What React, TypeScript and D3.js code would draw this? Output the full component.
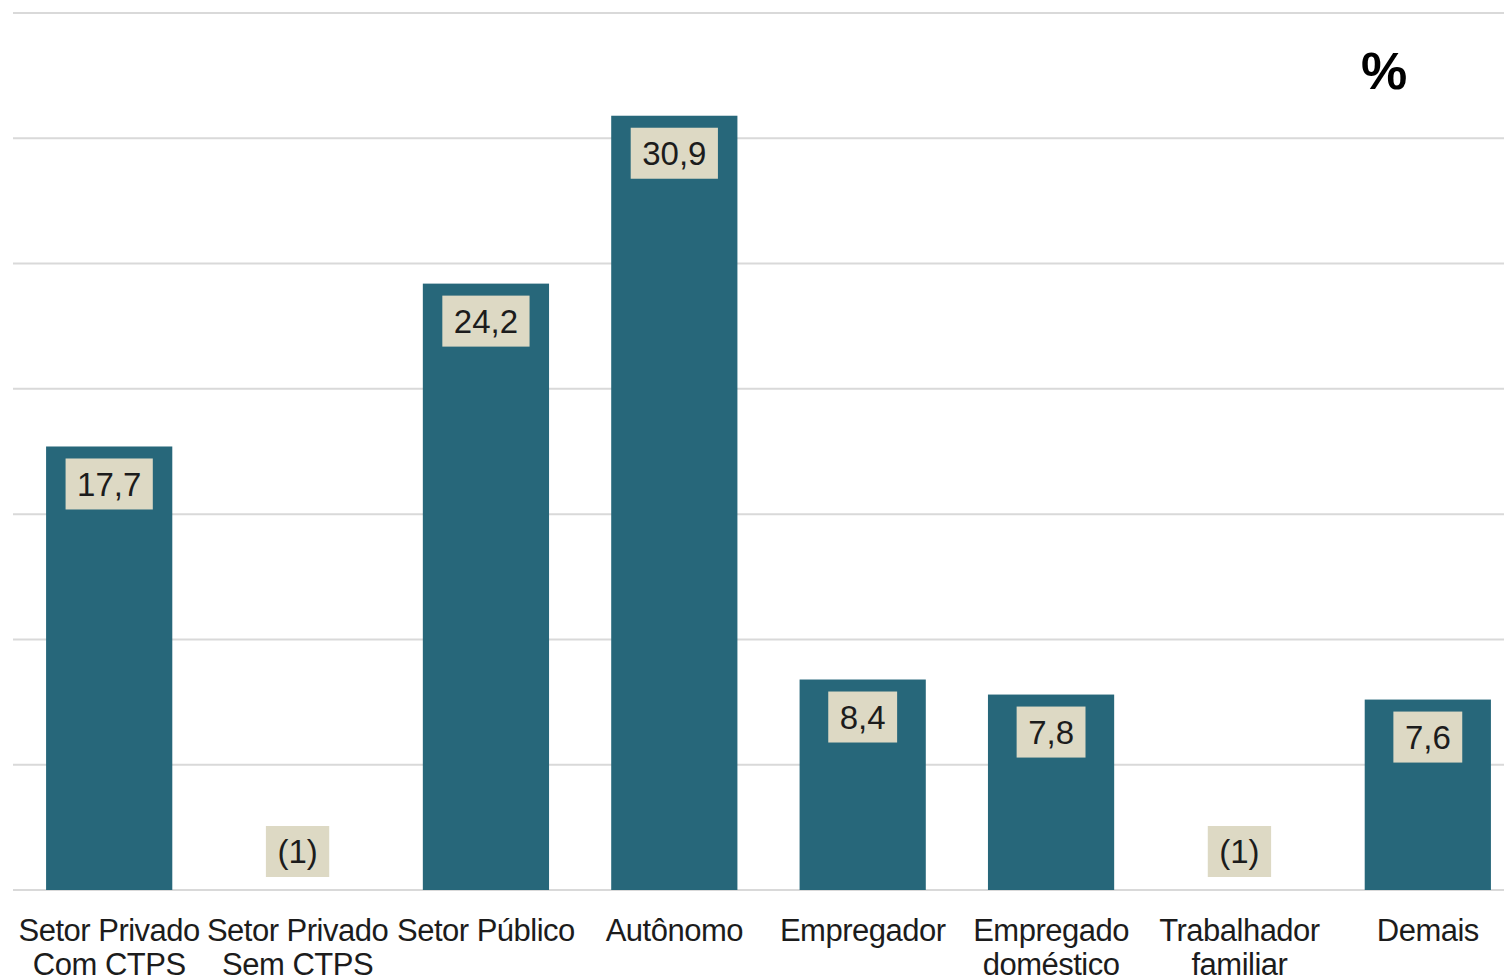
import * as d3 from "d3";

// categories (two lines each), values in %; null = "(1)" (amostra insuficiente)
const categories: string[][] = [
    ["Setor Privado", "Com CTPS"],
    ["Setor Privado", "Sem CTPS"],
    ["Setor Público"],
    ["Autônomo"],
    ["Empregador"],
    ["Empregado", "doméstico"],
    ["Trabalhador", "familiar"],
    ["Demais"],
];
const values: (number | null)[] = [17.7, null, 24.2, 30.9, 8.4, 7.8, null, 7.6];
const yTicks = [0, 5, 10, 15, 20, 25, 30, 35];
const unitLabel = "%";
const missingLabel = "(1)";

const width = 1504;
const height = 977;
const marginTop = 13;
const baseline = 890;
const plotLeft = 13;

const barColor = "#27677a";
const boxColor = "#ddd9c4";
const textColor = "#1c1c1c";
const gridColor = "#d9d9d9";
const font = "'Liberation Sans', Arial, sans-serif";

const valueFontSize = 33;

function measure(text: string, size: number) {
    const ctx = document.createElement("canvas").getContext("2d");
    if (!ctx) return text.length * size * 0.55;
    ctx.font = `${size}px ${font}`;
    return ctx.measureText(text).width;
}

export default function App() {
    const keys = categories.map((c) => c.join(" "));
    const x = d3
        .scaleBand<string>()
        .domain(keys)
        .range([15, 1522])
        .paddingInner(0.33)
        .paddingOuter(0.165);
    const y = d3.scaleLinear([0, 35], [baseline, marginTop]);
    const fmt = (v: number) => d3.format(".1f")(v).replace(".", ",");

    return (
        <svg
            width={width}
            height={height}
            style={{ position: "absolute", left: 0, top: 0, background: "#fff" }}
            fontFamily={font}
        >
            <g stroke={gridColor} strokeWidth={2}>
                {yTicks.map((t) => (
                    <line key={t} x1={plotLeft} x2={width} y1={y(t)} y2={y(t)} />
                ))}
            </g>
            {values.map((v, i) => {
                const x0 = x(keys[i]) ?? 0;
                const bw = x.bandwidth();
                const cx = x0 + bw / 2;
                const label = v == null ? missingLabel : fmt(v);
                const boxW = measure(label, valueFontSize) + 23;
                const boxH = 51;
                const boxTop = v == null ? baseline - 13 - boxH : y(v) + 12;
                return (
                    <g key={keys[i]}>
                        {v != null && (
                            <rect x={x0} y={y(v)} width={bw} height={baseline - y(v)} fill={barColor} />
                        )}
                        <rect x={cx - boxW / 2} y={boxTop} width={boxW} height={boxH} fill={boxColor} />
                        <text
                            x={cx}
                            y={boxTop + boxH / 2}
                            dy="0.36em"
                            textAnchor="middle"
                            fontSize={valueFontSize}
                            fill={textColor}
                        >
                            {label}
                        </text>
                    </g>
                );
            })}
            <g fontSize={31} letterSpacing={-0.5} fill={textColor} textAnchor="middle">
                {categories.map((lines, i) => (
                    <text key={keys[i]} x={(x(keys[i]) ?? 0) + x.bandwidth() / 2} y={941}>
                        {lines.map((l, j) => (
                            <tspan key={j} x={(x(keys[i]) ?? 0) + x.bandwidth() / 2} dy={j === 0 ? 0 : 34}>
                                {l}
                            </tspan>
                        ))}
                    </text>
                ))}
            </g>
            <text x={1384} y={89} textAnchor="middle" fontSize={52} fontWeight="bold" fill="#000">
                {unitLabel}
            </text>
        </svg>
    );
}
